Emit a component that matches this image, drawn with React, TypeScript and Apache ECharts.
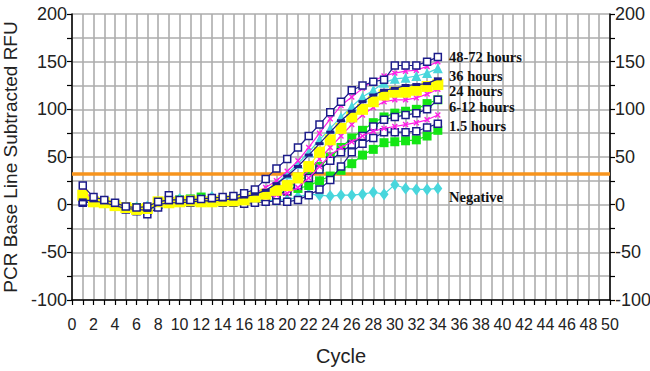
import React, { useEffect, useRef } from "react";
import * as echarts from "echarts";

const cycles = [1,2,3,4,5,6,7,8,9,10,11,12,13,14,15,16,17,18,19,20,21,22,23,24,25,26,27,28,29,30,31,32,33,34];

const navy48 = [20,8,5,2,-2,-3,-2,3,5,5,5,6,7,8,9,12,16,27,38,48,60,72,84,97,108,120,125,129,131,146,146,146,150,155];
const magenta1 = [15,6,3,1,-2,-4,-3,2,3,4,4,5,5,6,7,9,12,18,25,35,46,60,75,90,104,113,122,130,135,138,140,141,145,150];
const cyanTri = [12,5,4,0,-3,-5,-4,1,8,6,5,6,6,7,8,10,12,15,22,32,43,55,68,80,92,103,113,120,128,132,133,135,138,143];
const navyDash = [5,4,2,-1,-4,-5,-6,0,2,2,3,4,4,5,6,8,11,15,22,30,40,52,64,76,88,98,108,115,120,122,125,126,127,132];
const yellow = [10,3,2,-1,-3,-5,-4,3,2,3,4,3,3,4,4,5,8,11,15,20,28,40,55,68,80,92,100,108,115,118,118,120,124,126];
const magenta2 = [12,5,3,0,-2,-4,-3,2,3,4,4,5,5,5,6,7,9,10,12,18,26,36,48,60,72,84,94,102,108,110,110,112,116,121];
const navy612 = [3,5,2,-2,-5,-7,-10,-3,10,3,2,3,4,4,5,6,7,8,10,14,20,28,37,46,55,63,72,82,89,92,94,96,100,110];
const green612 = [8,4,3,0,-2,-4,-3,2,3,5,6,8,4,5,6,7,9,11,14,18,24,31,40,50,60,70,78,86,92,96,98,100,106,110];
const magenta3 = [14,4,2,0,-3,-4,-4,1,2,3,4,4,5,5,5,6,7,8,10,12,18,28,40,52,60,66,72,77,80,82,84,86,89,94];
const navy15 = [2,3,1,-2,-4,-6,-6,0,2,2,3,3,3,2,2,1,2,3,4,3,5,10,16,26,40,55,64,70,76,76,76,77,81,85];
const green15 = [10,4,3,0,-2,-3,-3,2,3,4,5,4,4,5,5,6,7,9,11,14,17,20,25,30,36,43,52,58,65,66,67,68,72,78];
const negative = [10,4,2,0,-3,-3,-2,3,6,6,5,6,8,5,6,5,5,4,5,5,8,11,10,9,10,10,11,13,11,21,17,16,16,17];

const threshold = 32;

const curveLabels = ["48-72 hours", "36 hours", "24 hours", "6-12 hours", "1.5 hours", "Negative"];
const yTicks = [-100, -50, 0, 50, 100, 150, 200];

const NAVY = "#1c1c8a";
const MAGENTA = "#ff1fe6";
const CYAN = "#48d6dc";
const YELLOW = "#ffff00";
const GREEN = "#14e614";

const crossPath = "path://M4,0H6V4H10V6H6V10H4V6H0V4H4Z";

function pts(vals: number[]) {
  return vals.map((v, i) => [cycles[i], v]);
}

function mkSeries(name: string, vals: number[], lineColor: string, symbol: string, size: any, item: any, z: number, rotate = 0) {
  return {
    name,
    type: "line",
    data: pts(vals),
    symbol,
    symbolSize: size,
    symbolRotate: rotate,
    showAllSymbol: true,
    lineStyle: { color: lineColor, width: 1.2 },
    itemStyle: item,
    z,
  };
}

export default function App() {
  const ref = useRef<HTMLDivElement>(null);
  useEffect(() => {
    if (!ref.current) return;
    const chart = echarts.init(ref.current, null, { renderer: "svg" });
    const navyOpen = { color: "#ffffff", borderColor: NAVY, borderWidth: 1.5 };
    const axisFont = { fontFamily: "Liberation Sans, Arial, sans-serif", fontSize: 18, color: "#222" };
    const yAxisCommon = {
      type: "value",
      min: -100,
      max: 200,
      interval: 25,
      axisLine: { show: true, lineStyle: { color: "#000", width: 1.5 } },
      axisTick: { show: true, length: 5, lineStyle: { color: "#000", width: 1.2 } },
      splitLine: { show: true, lineStyle: { color: "#adadad", width: 1.6 } },
      axisLabel: {
        ...axisFont,
        margin: 5,
        formatter: (v: number) => (yTicks.indexOf(v) >= 0 ? String(v) : ""),
      },
    };
    const series: any[] = [
      mkSeries("negative", negative, CYAN, "diamond", [9, 12], { color: CYAN }, 3),
      mkSeries("green15", green15, GREEN, "rect", 9, { color: GREEN }, 4),
      mkSeries("navy15", navy15, NAVY, "rect", 7, navyOpen, 5),
      mkSeries("magenta3", magenta3, MAGENTA, crossPath, 7, { color: MAGENTA }, 6, 45),
      mkSeries("green612", green612, GREEN, "rect", 9, { color: GREEN }, 4),
      mkSeries("navy612", navy612, NAVY, "rect", 7, navyOpen, 5),
      mkSeries("magenta2", magenta2, MAGENTA, crossPath, 7, { color: MAGENTA }, 6, 45),
      mkSeries("yellow", yellow, YELLOW, "rect", 11, { color: YELLOW }, 7),
      mkSeries("navyDash", navyDash, NAVY, "rect", [8, 3], { color: NAVY }, 8),
      mkSeries("cyanTri", cyanTri, CYAN, "triangle", 10, { color: CYAN }, 4),
      mkSeries("magenta1", magenta1, MAGENTA, crossPath, 7, { color: MAGENTA }, 6, 45),
      mkSeries("navy48", navy48, NAVY, "rect", 7, navyOpen, 9),
    ];
    series[0].markLine = {
      silent: true,
      symbol: ["none", "none"],
      label: { show: false },
      lineStyle: { color: "#f7941d", width: 3.5, type: "solid" },
      data: [{ yAxis: threshold }],
      z: 2,
    };
    const labelYs = [57, 75.5, 91, 106.5, 126, 197];
    const graphics = curveLabels.map((t, i) => ({
      type: "text",
      left: 449,
      top: labelYs[i] - 7.5,
      style: {
        text: t,
        fontFamily: "Liberation Serif, Times New Roman, serif",
        fontWeight: "bold",
        fontSize: 14.5,
        lineHeight: 15,
        fill: "#111",
      },
      z: 20,
    }));
    chart.setOption({
      animation: false,
      backgroundColor: "#ffffff",
      grid: { left: 72, right: 40, top: 14, bottom: 71, containLabel: false, outerBoundsMode: "none" },
      xAxis: {
        type: "value",
        min: 0,
        max: 50,
        interval: 1,
        name: "Cycle",
        nameLocation: "middle",
        nameGap: 46,
        nameTextStyle: { fontFamily: "Liberation Sans, Arial, sans-serif", fontSize: 20, color: "#222" },
        axisLine: { show: true, onZero: false, lineStyle: { color: "#000", width: 1.5 } },
        axisTick: { show: true, length: 5, lineStyle: { color: "#000", width: 1.2 } },
        splitLine: { show: true, lineStyle: { color: "#adadad", width: 1.6 } },
        axisLabel: {
          ...axisFont,
          fontSize: 16,
          margin: 16,
          hideOverlap: false,
          formatter: (v: number) => (v % 2 === 0 ? String(v) : ""),
        },
      },
      yAxis: [
        {
          ...yAxisCommon,
          position: "left",
          name: "PCR Base Line Subtracted RFU",
          nameLocation: "middle",
          nameGap: 42,
          nameTextStyle: { fontFamily: "Liberation Sans, Arial, sans-serif", fontSize: 19, color: "#222" },
        },
        { ...yAxisCommon, position: "right", splitLine: { show: false } },
      ],
      graphic: graphics,
      series,
    });
    return () => chart.dispose();
  }, []);
  return <div ref={ref} style={{ width: 650, height: 371, position: "absolute", left: 0, top: 0 }} />;
}
